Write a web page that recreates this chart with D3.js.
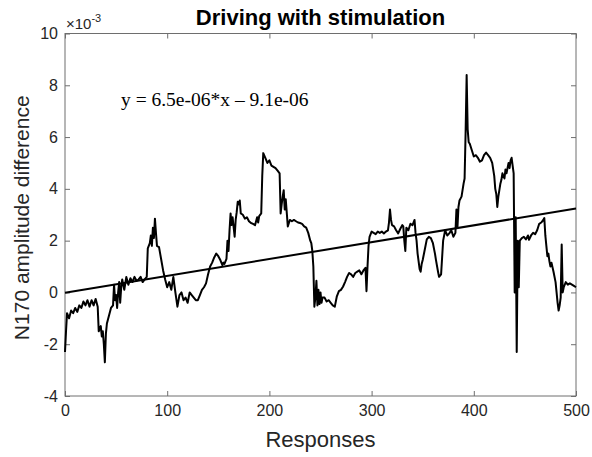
<!DOCTYPE html>
<html>
<head>
<meta charset="utf-8">
<script src="https://cdn.jsdelivr.net/npm/d3@7"></script>
<style>
  body { margin: 0; background: #fff; }
  text { font-family: "Liberation Sans", Arial, sans-serif; fill: #262626; }
  .box { fill: none; stroke: #6e6e6e; stroke-width: 1; }
  .tick line { stroke: #6e6e6e; }
  .series { fill: none; stroke: #000; stroke-width: 2; stroke-linejoin: round; }
  .fit { stroke: #000; stroke-width: 2; }
</style>
</head>
<body>
<div class="container"></div>
<script>
// responses (x) and N170 amplitude difference in units of 1e-3 (y)
var responses = [0,1,2,4,6,8,10,12,14,16,18,20,22,24,26,28,30,32,33,35,36,37,38,39,40,41,43,45,47,48,49,50,51,52,53,54,55,56,58,60,62,64,66,68,70,72,74,76,78,80,81,83,84,85,86,87,88,89,90,92,94,96,98,100,102,104,106,108,110,112,114,116,118,120,122,124,126,128,130,132,134,136,138,140,142,144,146,148,150,152,154,155,156,158,159,160,161,162,163,164,166,167,168,169,170,171,172,174,176,178,180,182,184,186,188,189,190,192,193,194,196,198,200,202,204,206,208,210,211,212,213,214,215,216,218,220,222,224,226,228,230,232,234,236,238,240,241,242,243,244,245,246,247,248,249,250,251,252,254,256,258,260,262,264,266,268,270,272,274,276,278,280,282,284,286,288,290,292,294,295,296,297,298,300,302,304,306,308,310,312,314,316,317,318,319,320,322,324,326,328,330,331,332,333,334,336,338,340,341,342,343,344,345,346,347,348,349,350,352,354,356,358,360,362,363,365,366,367,368,370,372,374,376,378,380,382,383,384,385,386,388,389,390,391,392,393,394,395,396,398,400,402,404,406,408,410,412,414,416,418,420,421,422,423,424,426,427,428,430,431,432,434,435,436,437,438,439,440,441,442,443,444,445,447,449,451,453,454,456,458,460,462,464,466,468,469,470,471,472,473,474,475,476,478,480,481,482,483,484,485,486,487,488,490,492,494,496,498,500];
var amplitude = [-2.3,-1.5,-0.8,-1.0,-0.7,-0.8,-0.6,-0.75,-0.5,-0.6,-0.35,-0.5,-0.3,-0.55,-0.3,-0.5,-0.25,-0.55,-1.5,-1.3,-1.7,-1.5,-2.0,-2.7,-1.6,-1.2,-0.9,-0.6,-0.5,0.3,-0.3,-0.1,-0.6,0.0,0.4,-0.4,0.2,0.5,0.1,0.6,0.3,0.55,0.4,0.6,0.45,0.5,0.6,0.4,0.5,0.6,1.7,1.9,2.2,1.8,2.5,2.1,2.85,2.3,1.8,1.75,1.3,0.85,0.5,0.2,0.4,0.1,0.6,0.0,-0.55,-0.1,0.0,-0.3,-0.2,-0.4,0.0,-0.1,-0.2,-0.3,-0.3,-0.1,0.1,0.2,0.35,0.7,1.0,1.15,1.35,1.5,1.4,1.25,1.05,1.15,1.1,1.3,2.0,1.6,2.4,3.05,2.6,2.9,2.15,2.8,3.1,3.5,3.4,3.55,3.05,3.0,2.85,2.9,2.75,2.68,2.65,2.6,2.9,2.7,2.95,3.05,4.5,5.38,5.2,5.0,5.1,4.9,4.85,4.8,4.7,4.6,3.05,3.4,3.7,3.95,3.2,3.6,2.55,2.8,2.75,2.8,2.75,2.7,2.68,2.65,2.55,2.5,2.3,2.0,1.9,1.6,1.0,-0.55,-0.2,0.45,-0.5,0.1,-0.45,0.0,-0.4,-0.2,-0.2,-0.35,-0.3,-0.4,-0.5,-0.55,-0.15,0.05,0.1,0.22,0.4,0.6,0.75,0.7,0.6,0.75,0.8,0.85,0.7,0.85,0.95,0.05,1.0,1.8,2.15,2.35,2.3,2.25,2.35,2.3,2.35,2.28,2.35,2.4,2.7,3.2,2.8,2.6,2.55,2.4,2.28,2.45,2.6,2.55,2.0,1.6,2.5,2.4,2.65,2.6,2.7,2.8,2.3,2.0,1.5,1.2,0.9,0.8,1.1,1.25,1.65,2.05,2.15,2.1,1.9,1.5,1.25,0.8,0.6,0.65,0.7,2.0,2.4,2.2,2.28,2.4,2.15,2.3,3.2,2.5,3.3,3.55,3.7,3.95,4.2,4.4,6.2,8.4,6.3,5.8,5.75,5.5,5.25,5.3,5.2,5.05,5.1,5.3,5.4,5.3,5.2,5.0,4.5,4.0,3.8,3.3,3.7,4.2,4.35,4.6,4.4,4.75,4.6,5.0,4.8,5.1,5.2,4.9,4.6,0.0,2.9,-2.3,2.0,0.2,2.0,2.1,2.15,2.05,2.2,2.03,2.2,2.3,2.25,2.4,2.65,2.7,2.8,2.87,2.2,1.8,1.4,1.5,1.2,1.0,1.15,0.8,0.4,0.0,-0.4,-0.7,-0.5,-0.2,1.85,0.0,0.2,0.4,0.3,0.35,0.3,0.25,0.2];

var xTicks = [0, 100, 200, 300, 400, 500];
var yTicks = [-4, -2, 0, 2, 4, 6, 8, 10];

// linear fit from the reference: y = 6.5e-06*x - 9.1e-06 (raw units)
var fitSlope = 6.5e-06;
var fitIntercept = -9.1e-06;

const WIDTH = 592;
const HEIGHT = 457;
const LEFT = 65, TOP = 33.5, RIGHT = 576, BOTTOM = 396;
const INNER_WIDTH = RIGHT - LEFT;
const INNER_HEIGHT = BOTTOM - TOP;
const TICK = 5;

var translate = function (x, y) { return "translate(" + x + "," + y + ")"; };

var svg = d3.select('.container').append('svg')
  .attr('width', WIDTH)
  .attr('height', HEIGHT);

var xScale = d3.scaleLinear().domain([0, 500]).range([0, INNER_WIDTH]);
var yScale = d3.scaleLinear().domain([-4, 10]).range([INNER_HEIGHT, 0]);

var plot = svg.append('g').attr('transform', translate(LEFT, TOP));

// axes (MATLAB style: ticks pointing inward, box on)
plot.append('g')
  .attr('transform', translate(0, INNER_HEIGHT))
  .call(d3.axisBottom(xScale).tickValues(xTicks).tickSizeInner(-TICK).tickSizeOuter(0).tickPadding(9));
plot.append('g')
  .call(d3.axisLeft(yScale).tickValues(yTicks).tickSizeInner(-TICK).tickSizeOuter(0).tickPadding(7)
    .tickFormat(function (d) { return String(d); }));
plot.append('g')
  .call(d3.axisTop(xScale).tickValues(xTicks).tickSizeInner(-TICK).tickSizeOuter(0).tickFormat(''));
plot.append('g')
  .attr('transform', translate(INNER_WIDTH, 0))
  .call(d3.axisRight(yScale).tickValues(yTicks).tickSizeInner(-TICK).tickSizeOuter(0).tickFormat(''));

plot.selectAll('.domain').remove();
plot.selectAll('.tick text')
  .style('font-size', '16px')
  .style('fill', '#262626');

plot.append('rect')
  .classed('box', true)
  .attr('x', 0).attr('y', 0)
  .attr('width', INNER_WIDTH).attr('height', INNER_HEIGHT);

// data line
var line = d3.line()
  .x(function (d, i) { return xScale(responses[i]); })
  .y(function (d) { return yScale(d); });

plot.append('path')
  .classed('series', true)
  .attr('d', line(amplitude));

// fitted line, converted to 1e-3 units
var fitY = function (x) { return (fitSlope * x + fitIntercept) * 1000; };
plot.append('line')
  .classed('fit', true)
  .attr('x1', xScale(0)).attr('y1', yScale(fitY(0)))
  .attr('x2', xScale(500)).attr('y2', yScale(fitY(500)));

// equation
plot.append('text')
  .attr('x', 121 - LEFT)
  .attr('y', 106 - TOP)
  .style('font-family', '"Liberation Serif", "Times New Roman", serif')
  .style('font-size', '19.5px')
  .style('fill', '#000')
  .text('y = 6.5e-06*x \u2013 9.1e-06');

// exponent label
var expo = svg.append('text')
  .attr('x', LEFT + 1)
  .attr('y', 29)
  .style('font-size', '15px');
expo.append('tspan').text('\u00d710');
expo.append('tspan').attr('dy', -7).style('font-size', '11px').text('-3');

// title
svg.append('text')
  .attr('x', (LEFT + RIGHT) / 2)
  .attr('y', 25)
  .attr('text-anchor', 'middle')
  .style('font-size', '22px')
  .style('font-weight', 'bold')
  .style('fill', '#000')
  .text('Driving with stimulation');

// axis labels
svg.append('text')
  .attr('x', (LEFT + RIGHT) / 2)
  .attr('y', 447)
  .attr('text-anchor', 'middle')
  .style('font-size', '22px')
  .text('Responses');

svg.append('text')
  .attr('transform', translate(29, (TOP + BOTTOM) / 2 + 3) + ' rotate(-90)')
  .attr('text-anchor', 'middle')
  .style('font-size', '21px')
  .text('N170 amplitude difference');
</script>
</body>
</html>
